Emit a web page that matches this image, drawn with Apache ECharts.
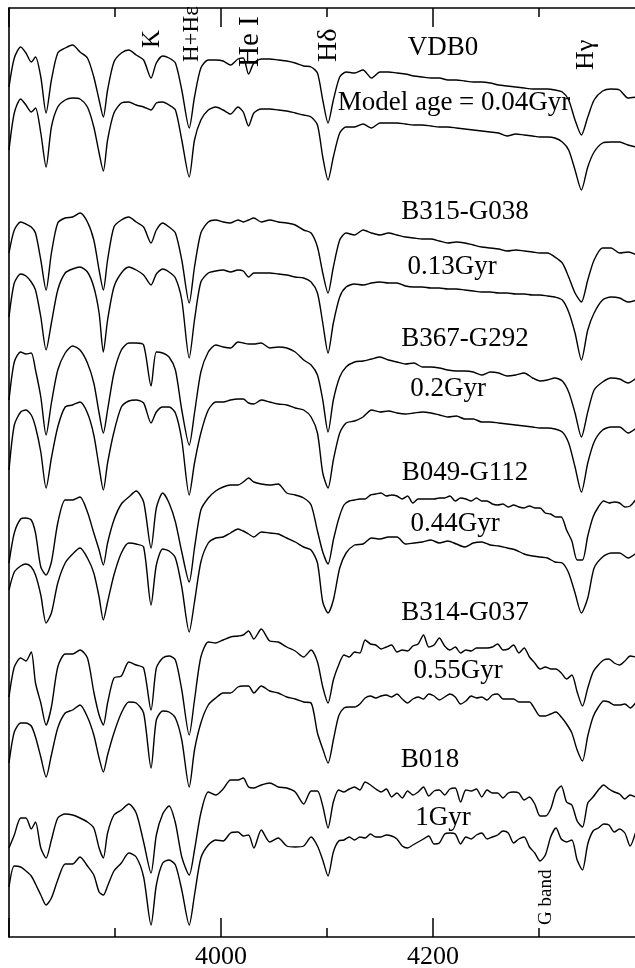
<!DOCTYPE html>
<html>
<head>
<meta charset="utf-8">
<script src="https://cdn.jsdelivr.net/npm/echarts@6/dist/echarts.min.js"></script>
<style>
html,body{margin:0;padding:0;background:#fff;}
#chart{width:635px;height:968px;}
</style>
</head>
<body>
<div id="chart"></div>
<script>
// Wavelength grid (Angstrom)
const wavelength = [3800,3805,3811,3816,3821,3825,3830,3835,3840,3846,3853,3860,3867,3874,3880,3885,3889,3893,3899,3906,3913,3920,3927,3934,3939,3945,3951,3957,3963,3970,3975,3981,3988,3995,4002,4009,4016,4021,4026,4031,4038,4046,4054,4062,4070,4078,4085,4091,
4096,4101,4106,4112,4118,4126,4134,4142,4150,4158,4166,4174,4182,4190,4198,4206,4214,4222,4230,4238,4246,4254,4262,4270,4278,4286,4294,4301,4308,4315,4322,4328,4334,4340,4346,4352,4360,4368,4376,4384,4392];
// Finer wavelength grid (5 A) used for the noisier observed/old spectra beyond Hdelta
const wavelengthFine = [4091,4096,4101,4106,4111,4116,4121,4126,4131,4136,4141,4146,4151,4156,4161,4166,4171,4176,4181,4186,4191,4196,4201,4206,4211,4216,4221,4226,4231,4236,4241,4246,4251,4256,4261,4266,4271,4276,4281,4286,4291,4296,4301,4306,4311,4316,4321,4326,4331,4336,4341,4346,4351,4356,4361,4366,4371,4376,4381,4386,4391];

// Relative flux + vertical offset (arbitrary units), top to bottom
const vdb0Obs = [850,879,890,884,875,880,860,824,857,884,889,892,885,879,860,837,820,847,875,884,887,882,877,859,874,881,879,874,847,809,840,869,877,877,876,872,878,879,863,874,878,878,877,876,874,871,870,864,
837,814,837,860,865,864,867,859,865,865,864,863,861,860,859,859,857,857,856,855,855,854,852,851,850,849,848,848,848,847,845,837,817,802,820,837,846,848,847,839,840];
const vdb0Model = [787,824,838,832,825,829,804,770,810,830,837,839,838,830,810,784,766,797,824,834,835,832,830,827,834,835,832,827,797,760,797,817,827,830,827,823,830,825,811,824,828,828,827,826,824,822,820,812,
780,757,780,804,810,810,813,809,814,814,814,813,812,812,811,810,810,809,808,807,806,805,804,801,803,802,801,800,800,799,795,787,767,747,770,785,794,795,795,792,790];
const b315Obs = [684,707,715,713,710,704,677,647,684,714,719,720,724,715,697,667,647,677,710,717,720,715,710,694,707,714,710,704,677,634,670,704,715,717,715,714,717,715,717,719,715,717,715,714,712,707,704,690,
664,644,670,697,704,702,707,704,702,704,702,700,699,698,698,696,694,695,694,692,690,689,688,686,687,686,685,684,684,680,674,660,644,635,657,677,689,689,684,685,682];
const b315Model = [620,654,663,661,655,647,620,587,614,647,664,668,670,665,650,624,585,617,650,664,670,667,662,652,663,668,665,659,637,579,617,655,664,666,667,665,667,666,660,664,664,664,663,662,660,659,655,644,
614,584,614,640,650,653,652,654,655,654,654,651,650,650,649,649,648,648,647,646,645,645,644,644,643,643,642,642,641,640,637,625,604,577,607,624,637,640,639,635,637];
const b367Obs = [537,575,585,583,584,567,540,502,534,567,584,591,587,574,554,524,504,527,564,587,594,594,592,551,585,584,580,567,527,492,524,565,585,592,590,589,595,594,593,593,594,589,590,589,585,577,572,562,
537,505,537,560,570,575,576,578,580,577,575,573,574,570,570,569,567,566,566,565,562,565,564,561,562,564,559,556,557,559,556,545,524,500,525,547,555,559,558,554,559];
const b367Model = [467,512,525,527,522,510,485,449,479,510,530,532,535,524,502,470,447,474,505,530,536,537,534,514,525,530,530,524,497,442,474,504,527,535,535,537,538,538,534,533,537,535,533,532,529,527,520,504,
464,449,477,504,514,516,520,527,525,526,524,523,524,525,524,522,520,521,518,518,515,515,514,513,512,511,510,509,509,508,505,494,470,445,474,495,507,510,510,504,509];
const b049Obs = [374,404,418,419,417,404,370,362,375,414,437,437,440,425,404,387,372,394,417,433,440,446,435,389,429,444,434,415,385,355,389,427,439,446,450,452,452,455,459,455,453,452,453,444,442,439,432,412,
385,372,397,424,434,438,437,442,444,440,440,439,435,437,436,439,443,437,440,436,438,436,434,431,433,429,429,430,424,420,420,404,382,374,400,420,436,434,434,428,437];
const b049Model = [347,365,371,373,370,362,342,314,324,354,374,383,389,379,364,340,317,335,362,384,394,393,390,332,372,388,386,379,350,305,335,375,394,399,400,404,408,406,403,400,405,404,403,399,395,390,387,374,
335,324,337,369,384,392,393,399,398,400,400,393,394,395,397,394,396,393,390,394,395,392,391,389,387,383,381,380,379,375,374,364,344,324,339,369,380,384,384,379,384];
const b314Obs = [240,270,279,276,285,254,234,212,230,270,283,283,287,279,245,222,212,234,259,261,275,272,269,227,269,279,281,277,247,202,237,280,295,294,297,300,301,302,306,298,308,296,295,290,286,280,287,282,
249,234,257,273,282,284,292,292,292,289,285,284,289,300,290,300,289,289,287,288,289,287,293,287,291,289,278,268,270,268,262,259,252,229,249,267,276,278,272,278,280];
const b314Model = [174,205,214,214,211,200,180,160,182,209,224,227,232,220,202,179,165,182,204,224,235,234,224,169,217,226,225,219,197,150,187,214,232,239,244,244,250,251,251,244,251,246,244,240,238,235,234,222,
189,174,197,222,230,230,236,240,241,241,243,235,238,238,244,238,242,239,234,240,240,240,242,237,237,235,233,222,222,225,219,211,194,174,200,222,235,234,232,229,234];
const b018Obs = [89,102,119,119,108,115,89,79,97,119,123,122,119,115,109,89,79,104,122,127,133,124,95,64,102,123,131,114,80,62,87,124,145,142,148,157,157,159,150,149,152,154,150,149,145,133,146,139,
132,109,135,146,151,150,152,152,144,147,145,142,143,149,144,147,146,148,145,149,141,144,142,144,145,137,138,121,120,137,150,131,120,107,135,140,151,144,144,138,140];
const b018Model = [50,71,70,66,61,53,42,32,39,57,73,73,80,71,62,45,42,51,66,74,84,80,60,12,52,74,77,72,47,12,42,79,92,97,96,104,105,101,102,89,107,95,99,91,90,91,100,98,
75,61,89,97,98,97,100,102,100,104,98,87,93,97,98,94,105,103,99,100,104,97,102,104,96,100,87,76,82,109,96,104,84,64,92,106,111,108,105,98,104];

// Finer readings (on wavelengthFine) for the noisy spectra
const b049ObsFine = [406,385,373,397,418,432,436,437,438,438,442,443,444,441,442,441,438,441,434,438,438,438,438,439,439,441,436,439,438,436,439,436,436,433,432,433,430,432,430,429,431,429,429,424,423,420,420,407,396,377,377,401,420,430,436,434,435,434,430,431,437];
const b314ObsFine = [275,250,234,257,272,282,280,285,284,297,293,292,288,290,292,285,287,286,291,293,302,290,292,299,291,287,290,284,287,286,289,289,289,290,293,287,288,292,284,289,280,274,268,270,268,268,264,258,262,245,231,249,265,272,277,278,274,272,276,281,280];
const b314ModelFine = [204,188,174,197,221,229,230,230,233,239,241,239,241,242,240,243,238,234,238,240,238,243,241,237,240,243,240,233,236,241,239,240,237,242,243,238,238,238,235,235,235,228,221,221,223,225,220,213,204,187,176,201,220,230,236,235,232,232,233,229,234];
const b018ObsFine = [146,131,109,135,147,145,148,150,147,155,152,148,145,148,140,144,139,146,142,145,150,141,146,147,142,148,149,135,147,146,148,140,147,144,144,139,144,145,144,137,140,133,121,121,128,145,151,135,132,116,110,134,140,147,152,148,145,143,138,142,140];
const b018ModelFine = [91,77,61,85,96,97,100,97,100,99,103,100,100,102,101,98,91,89,92,95,98,101,93,94,103,104,103,93,100,98,102,104,98,100,102,106,104,94,98,100,90,84,76,82,100,109,98,95,97,77,67,93,106,109,113,112,105,108,104,91,104];

const spectra = [vdb0Obs, vdb0Model, b315Obs, b315Model, b367Obs, b367Model, b049Obs, b049Model, b314Obs, b314Model, b018Obs, b018Model];
const fineParts = {6:b049ObsFine, 8:b314ObsFine, 9:b314ModelFine, 10:b018ObsFine, 11:b018ModelFine};

const clusterNames = ['VDB0','B315-G038','B367-G292','B049-G112','B314-G037','B018'];
const modelAges = ['Model age = 0.04Gyr','0.13Gyr','0.2Gyr','0.44Gyr','0.55Gyr','1Gyr'];
const lineNames = ['K','H+H\u03b5','He I','H\u03b4','H\u03b3'];
const gBandName = 'G band';
const tickLabels = [4000, 4200];

const SERIF = '"Liberation Serif","DejaVu Serif",serif';

// label placement (pixels) – layout only
const namePos = [[443,48],[465,212],[465,339],[465,473],[465,613],[430,760]];
const agePos  = [[454,103],[452,267],[448,389],[455,524],[458,671],[443,818]];
const linePos = [[152,48,25],[192,62,23],[250,67,29],[329,62,28],[586,70,26]];

function buildData(idx){
  const arr = spectra[idx];
  const fine = fineParts[idx];
  if (!fine) return wavelength.map((w,i)=>[w, arr[i]]);
  const left = [];
  wavelength.forEach((w,i)=>{ if (w < wavelengthFine[0]) left.push([w, arr[i]]); });
  return left.concat(wavelengthFine.map((w,i)=>[w, fine[i]]));
}

const chart = echarts.init(document.getElementById('chart'));

function xAxisDef(pos, showLabel){
  return {
    type:'value', position:pos, min:3800, max:4400, interval:200,
    axisLine:{show:true, onZero:false, lineStyle:{color:'#000', width:1.6}},
    axisTick:{show:true, inside:true, length:19, lineStyle:{color:'#000', width:1.5}},
    minorTick:{show:true, splitNumber:2, length:9, lineStyle:{color:'#000', width:1.5}},
    splitLine:{show:false}, minorSplitLine:{show:false},
    axisLabel:{show:showLabel, margin:7, fontFamily:SERIF, fontSize:26, color:'#000',
      formatter: v => tickLabels.includes(v) ? String(v) : ''}
  };
}

const graphics = [];
clusterNames.forEach((t,i)=>graphics.push({type:'text', x:namePos[i][0], y:namePos[i][1], silent:true,
  style:{text:t, font:'27px '+SERIF, fill:'#000', align:'center', verticalAlign:'middle'}}));
modelAges.forEach((t,i)=>graphics.push({type:'text', x:agePos[i][0], y:agePos[i][1], silent:true,
  style:{text:t, font:'27px '+SERIF, fill:'#000', align:'center', verticalAlign:'middle'}}));
lineNames.forEach((t,i)=>graphics.push({type:'text', x:linePos[i][0], y:linePos[i][1], rotation:Math.PI/2, silent:true,
  style:{text:t, font:linePos[i][2]+'px '+SERIF, fill:'#000', align:'left', verticalAlign:'middle'}}));
graphics.push({type:'text', x:546, y:925, rotation:Math.PI/2, silent:true,
  style:{text:gBandName, font:'19px '+SERIF, fill:'#000', align:'left', verticalAlign:'middle'}});

chart.setOption({
  animation:false,
  backgroundColor:'#fff',
  grid:{left:9, width:636, top:8, bottom:31, containLabel:false, outerBoundsMode:'none'},
  xAxis:[xAxisDef('bottom', true), xAxisDef('top', false)],
  yAxis:{type:'value', min:0, max:929,
    axisLine:{show:true, onZero:false, lineStyle:{color:'#000', width:1.6}},
    axisTick:{show:false}, axisLabel:{show:false}, splitLine:{show:false}},
  series: spectra.map((arr, idx) => ({
    type:'line', xAxisIndex:0, yAxisIndex:0,
    data: buildData(idx),
    showSymbol:false, smooth:0.25, silent:true,
    lineStyle:{color:'#000', width:1.4}
  })),
  graphic: graphics
});
</script>
</body>
</html>
